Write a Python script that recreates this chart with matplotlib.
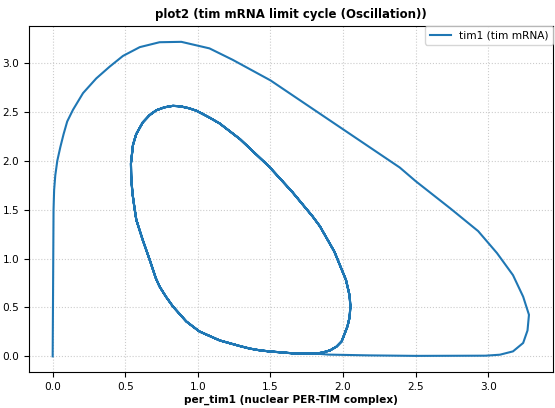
import matplotlib
matplotlib.use("Agg")
import matplotlib.pyplot as plt
import numpy as np

# transient path: from the start up the left side, over the top, down the right, back along the bottom
trans_x = [0.0, 0.002, 0.004, 0.006, 0.010, 0.018, 0.032, 0.053, 0.075, 0.10, 0.14, 0.209, 0.30,
           0.392, 0.484, 0.60, 0.736, 0.886, 1.08, 1.24, 1.50, 1.70, 1.80, 2.11, 2.39, 2.50, 2.74,
           2.93, 3.06, 3.17, 3.24, 3.28, 3.27, 3.24, 3.17, 3.08, 2.98, 2.50, 2.18, 1.90]
trans_y = [0.0, 0.5, 1.0, 1.5, 1.70, 1.85, 2.00, 2.14, 2.27, 2.40, 2.52, 2.69, 2.84,
           2.96, 3.07, 3.16, 3.21, 3.214, 3.147, 3.03, 2.82, 2.62, 2.52, 2.21, 1.93, 1.79, 1.51,
           1.28, 1.055, 0.83, 0.61, 0.425, 0.265, 0.137, 0.051, 0.017, 0.007, 0.005, 0.01, 0.018]

# one lap of the limit cycle (clockwise, starting at the bottom)
cyc_x = [1.815, 1.68, 1.49, 1.425, 1.356, 1.29, 1.15, 1.01, 0.92, 0.828, 0.78, 0.736, 0.71, 0.668,
         0.62, 0.576, 0.564, 0.55, 0.541, 0.539, 0.553, 0.575, 0.62, 0.668, 0.714, 0.77, 0.828, 0.88,
         0.94, 0.99, 1.08, 1.15, 1.29, 1.49, 1.65, 1.79, 1.84, 1.94, 2.02, 2.045, 2.05, 2.045, 2.03,
         1.99, 1.955, 1.91, 1.86, 1.815]
cyc_y = [0.028, 0.028, 0.051, 0.062, 0.08, 0.105, 0.163, 0.255, 0.357, 0.51, 0.61, 0.714, 0.80, 0.987,
         1.19, 1.395, 1.51, 1.66, 1.82, 1.97, 2.16, 2.27, 2.39, 2.466, 2.515, 2.545, 2.56, 2.555,
         2.535, 2.51, 2.44, 2.38, 2.22, 1.94, 1.68, 1.43, 1.33, 1.07, 0.78, 0.62, 0.51, 0.40, 0.306,
         0.153, 0.10, 0.061, 0.04, 0.028]
n_laps = 4

x = np.concatenate([trans_x] + [cyc_x] * n_laps)
y = np.concatenate([trans_y] + [cyc_y] * n_laps)

fig, ax = plt.subplots(figsize=(5.55, 4.08), dpi=100)
ax.plot(x, y, color="#1f77b4", lw=1.5, label="tim1 (tim mRNA)")
ax.grid(True, linestyle=":", color="#cccccc")
ax.set_title("plot2 (tim mRNA limit cycle (Oscillation))", fontsize=8.5, fontweight="bold")
ax.set_xlabel("per_tim1 (nuclear PER-TIM complex)", fontsize=7.6, fontweight="bold", labelpad=2)
ax.tick_params(labelsize=7.6)
ax.legend(loc="upper right", fontsize=7.6, borderaxespad=0)
plt.subplots_adjust(left=0.052, right=0.996, bottom=0.088, top=0.936)
plt.savefig("out.png")
